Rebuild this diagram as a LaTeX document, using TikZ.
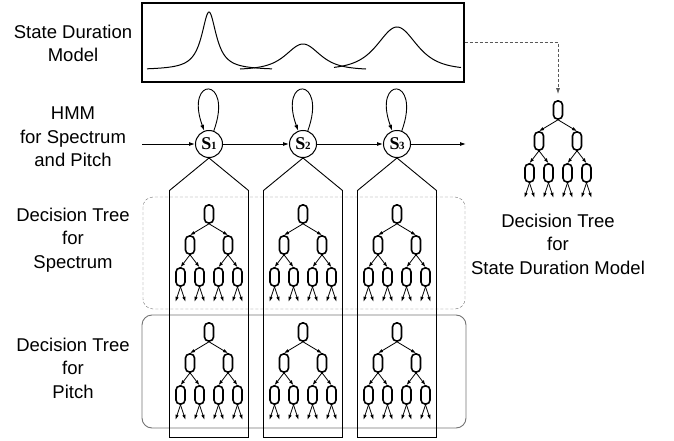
\documentclass[tikz,border=0pt]{standalone}
\usepackage{fontspec}
\setmainfont{Liberation Sans}
\newfontfamily\statefont{Liberation Serif}
\usetikzlibrary{arrows.meta}

% one small decision tree, root at (#2,#3)
\newcommand{\dtree}[3]{%
  \node[tnode] (#1r) at (#2,#3) {};
  \node[tnode] (#1a) at (#2-19,#3+31) {};
  \node[tnode] (#1b) at (#2+19,#3+31) {};
  \node[tnode] (#1a1) at (#2-28.5,#3+63) {};
  \node[tnode] (#1a2) at (#2-9.5,#3+63) {};
  \node[tnode] (#1b1) at (#2+9.5,#3+63) {};
  \node[tnode] (#1b2) at (#2+28.5,#3+63) {};
  \draw[tarr] (#1r.south) -- (#1a.north);
  \draw[tarr] (#1r.south) -- (#1b.north);
  \draw[tarr] (#1a.south) -- (#1a1.north);
  \draw[tarr] (#1a.south) -- (#1a2.north);
  \draw[tarr] (#1b.south) -- (#1b1.north);
  \draw[tarr] (#1b.south) -- (#1b2.north);
  \foreach \n in {a1,a2,b1,b2} {
    \path (#1\n.south) ++(-5,15) coordinate (#1\n l) ++(10,0) coordinate (#1\n r);
    \draw[tarr] (#1\n.south) -- (#1\n l);
    \draw[tarr] (#1\n.south) -- (#1\n r);
  }
}

\begin{document}
\begin{tikzpicture}[x=1pt,y=-1pt,
  lbl/.style={align=center,font=\fontsize{18.5}{23.5}\selectfont},
  state/.style={draw,circle,minimum size=27pt,inner sep=0pt,line width=1pt,fill=white},
  tnode/.style={draw,rounded corners=4pt,minimum width=9pt,minimum height=18pt,inner sep=0pt,line width=1.6pt},
  tarr/.style={-{Latex[length=5pt,width=3.5pt]},line width=0.8pt},
  arr/.style={-{Latex[length=6pt,width=4pt]},line width=0.9pt}]
  \useasboundingbox (0,0) rectangle (674,441);

  % labels
  \node[lbl] (ldur) at (73,43.5) {State Duration\\Model};
  \node[lbl] (lhmm) at (73,137) {HMM\\for Spectrum\\and Pitch};
  \node[lbl] (lspec) at (73,240) {Decision Tree\\for\\Spectrum};
  \node[lbl] (lpitch) at (73,368) {Decision Tree\\for\\Pitch};
  \node[lbl] (ldurtree) at (558,244) {Decision Tree\\for\\State Duration Model};

  % duration densities
  \node[draw,line width=1.1pt,minimum width=322pt,minimum height=79pt,inner sep=0pt] (durbox) at (303,42.5) {};
  \draw[line width=1pt] plot[domain=147:272,samples=150] (\x,{70-58/(1+((\x-209)/9)^2)});
  \draw[line width=1pt] plot[domain=240:366,samples=100] (\x,{70-26/(1+((\x-303)/31)^2)^2});
  \draw[line width=1pt] plot[domain=334:461,samples=100] (\x,{70-43/(1+((\x-397)/36)^2)^2});

  % tree groups
  \draw[gray!90!black,densely dashed,rounded corners=10pt] (143,197) rectangle (465,309);
  \draw[gray!90!black,line width=0.9pt,rounded corners=10pt] (142,315) rectangle (466,428);

  % HMM states
  \node[state] (s1) at (209,144) {\statefont\bfseries\fontsize{18}{18}\selectfont S\kern-0.5pt{\fontsize{11}{11}\selectfont 1}};
  \node[state] (s2) at (303,144) {\statefont\bfseries\fontsize{18}{18}\selectfont S\kern-0.5pt{\fontsize{11}{11}\selectfont 2}};
  \node[state] (s3) at (397,144) {\statefont\bfseries\fontsize{18}{18}\selectfont S\kern-0.5pt{\fontsize{11}{11}\selectfont 3}};
  \coordinate (hin) at (142,144);
  \coordinate (hout) at (466,144);
  \draw[arr] (hin) -- (s1);
  \draw[arr] (s1) -- (s2);
  \draw[arr] (s2) -- (s3);
  \draw[arr] (s3) -- (hout);
  \foreach \s in {s1,s2,s3} {
    \draw[arr] (\s.70) .. controls +(20,-55) and +(-20,-55) .. (\s.110);
    \draw[line width=0.9pt] (\s.south) -- ++(-39.5,32.5) -- ++(0,247) -- ++(79,0) -- ++(0,-247) -- cycle;
  }

  % trees
  \dtree{sp1}{209}{214}
  \dtree{sp2}{303}{214}
  \dtree{sp3}{397}{214}
  \dtree{pi1}{209}{332}
  \dtree{pi2}{303}{332}
  \dtree{pi3}{397}{332}
  \dtree{du}{558}{110}

  \draw[arr,densely dashed,gray!70!black,shorten >=6pt] (durbox.east) -| (dur.north);
\end{tikzpicture}
\end{document}
